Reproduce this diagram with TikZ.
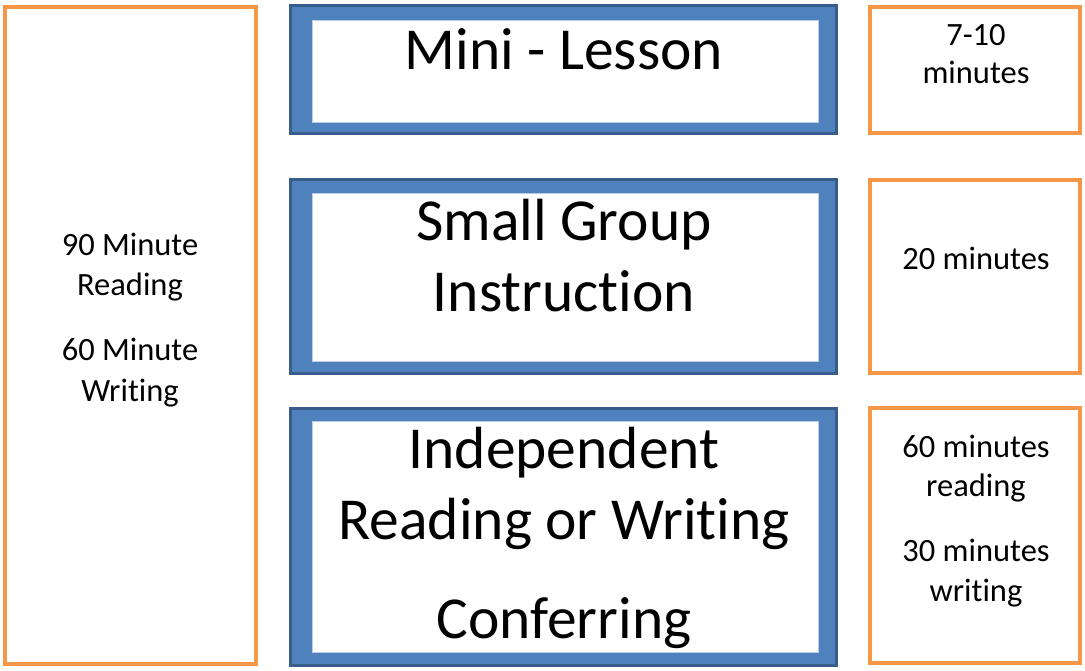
\documentclass[tikz,border=0pt]{standalone}
\usepackage{fontspec}
\setmainfont{Carlito}[Ligatures=NoCommon]
\definecolor{blueedge}{HTML}{385D8A}
\definecolor{bluefill}{HTML}{4F81BD}
\definecolor{bluerim}{HTML}{B9CDE5}
\definecolor{orangeline}{HTML}{F79646}

\begin{document}
\begin{tikzpicture}[x=1pt,y=-1pt,
	every node/.append style={inner sep=0pt},
	stage/.style={draw=blueedge, line width=3pt, fill=bluefill, rectangle},
	pane/.style={draw=bluerim, line width=0.8pt, fill=white, rectangle},
	timebox/.style={draw=orangeline, line width=4.5pt, fill=white, rectangle},
	big/.style={anchor=base, font=\fontsize{59.5}{70}\selectfont},
	small/.style={anchor=base, font=\fontsize{32.5}{40}\selectfont}]
	\useasboundingbox (0,0) rectangle (1085,671);
	% left column
	\node[timebox, minimum width=251, minimum height=657] (total) at (130.5,335.5) {};
	\node[small] (tr1) at (130,256) {90 Minute};
	\node[small] (tr2) at (130,296) {Reading};
	\node[small] (tw1) at (130,360) {60 Minute};
	\node[small] (tw2) at (130,401) {Writing};
	% middle column
	\node[stage, minimum width=546, minimum height=128] (mini) at (563.5,69.5) {};
	\node[pane, minimum width=506, minimum height=102] (minip) at (565,71) {};
	\node[stage, minimum width=546, minimum height=194] (group) at (563.5,276.5) {};
	\node[pane, minimum width=506, minimum height=168] (groupp) at (565,277) {};
	\node[stage, minimum width=546, minimum height=257] (indep) at (563.5,537) {};
	\node[pane, minimum width=506, minimum height=231] (indepp) at (565,536.5) {};
	\node[big] (m1) at (564,70) {Mini - Lesson};
	\node[big] (g1) at (564,241) {Small Group};
	\node[big] (g2) at (564,312) {Instruction};
	\node[big] (i1) at (564,468) {Independent};
	\node[big] (i2) at (564,539) {Reading or Writing};
	\node[big] (i3) at (564,638) {Conferring};
	% right column
	\node[timebox, minimum width=210, minimum height=126] (tm) at (975,70) {};
	\node[timebox, minimum width=210, minimum height=193] (tg) at (975,276.5) {};
	\node[timebox, minimum width=210, minimum height=255] (ti) at (975,535.5) {};
	\node[small] (tm1) at (976,46) {7-10};
	\node[small] (tm2) at (976,84) {minutes};
	\node[small] (tg1) at (976,270) {20 minutes};
	\node[small] (ti1) at (976,457) {60 minutes};
	\node[small] (ti2) at (976,496) {reading};
	\node[small] (ti3) at (976,561) {30 minutes};
	\node[small] (ti4) at (976,601) {writing};
\end{tikzpicture}
\end{document}
